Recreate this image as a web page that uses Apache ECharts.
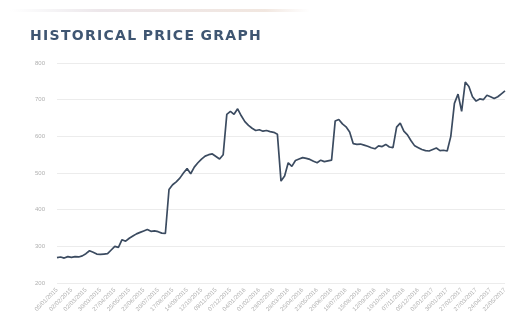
<!DOCTYPE html>
<html>
<head>
<meta charset="utf-8">
<script src="https://cdn.jsdelivr.net/npm/echarts@6/dist/echarts.min.js"></script>
<style>
  html, body { margin: 0; padding: 0; background: #ffffff; }
  #wrap { position: relative; width: 517px; height: 323px; }
  #chart { width: 517px; height: 323px; }
  #title {
    position: absolute; left: 30px; top: 27px;
    font-family: "DejaVu Sans", Verdana, sans-serif;
    font-size: 14px; font-weight: bold; line-height: 16px;
    letter-spacing: 1.3px; word-spacing: -1px;
    color: #3f5672; white-space: nowrap;
  }
</style>
</head>
<body>
<div id="wrap">
  <div id="chart"></div>
  <div id="title">HISTORICAL PRICE GRAPH</div>
</div>
<script>
// Weekly closing prices
const prices = [
  269, 271, 268, 272, 270, 272, 271, 274, 280, 288,
  284, 279, 278, 279, 280, 290, 300, 297, 318, 314,
  322, 328, 334, 338, 342, 346, 341, 342, 340, 336,
  335, 455, 468, 476, 486, 500, 512, 498, 516, 528,
  538, 546, 550, 552, 545, 538, 550, 660, 668, 660,
  675, 656, 640, 630, 622, 616, 618, 614, 616, 613,
  611, 606, 478, 492, 528, 518, 534, 538, 542, 540,
  537, 532, 528, 535, 531, 533, 535, 642, 646, 634,
  626, 612, 580, 578, 579, 576, 573, 569, 566, 574,
  572, 578, 571, 569, 625, 636, 614, 604, 588, 574,
  569, 564, 561, 560, 564, 568, 561, 562, 560, 600,
  690, 715, 668, 748, 736, 708, 696, 702, 700, 712,
  708, 703, 708, 716, 724
];

// Price axis ticks
const yTicks = [200, 300, 400, 500, 600, 700, 800];

// One date per week, starting at the first trading week
const startDate = new Date(Date.UTC(2015, 0, 5));
const dates = prices.map((_, i) => {
  const d = new Date(startDate.getTime() + i * 7 * 86400000);
  const mm = String(d.getUTCMonth() + 1).padStart(2, '0');
  const dd = String(d.getUTCDate()).padStart(2, '0');
  return dd + '/' + mm + '/' + d.getUTCFullYear();
});

const chart = echarts.init(document.getElementById('chart'), null, { renderer: 'canvas' });
chart.setOption({
  backgroundColor: '#ffffff',
  animation: false,
  graphic: [{
    type: 'rect',
    shape: { x: 10, y: 9, width: 300, height: 3 },
    style: {
      fill: new echarts.graphic.LinearGradient(0, 0, 1, 0, [
        { offset: 0, color: 'rgba(230,230,235,0)' },
        { offset: 0.3, color: 'rgba(235,228,232,0.9)' },
        { offset: 0.85, color: 'rgba(240,228,220,0.9)' },
        { offset: 1, color: 'rgba(240,230,225,0)' }
      ])
    }
  }],
  grid: { left: 57, right: 12, top: 63, bottom: 40 },
  xAxis: {
    type: 'category',
    data: dates,
    boundaryGap: false,
    axisLine: { show: false },
    axisTick: { show: false },
    axisLabel: {
      interval: 3,
      rotate: 45,
      fontSize: 6,
      color: '#b0b0b0',
      margin: 6
    },
    splitLine: { show: false }
  },
  yAxis: {
    type: 'value',
    min: yTicks[0],
    max: yTicks[yTicks.length - 1],
    interval: 100,
    axisLine: { show: false },
    axisTick: { show: false },
    axisLabel: {
      fontSize: 6,
      color: '#b0b0b0',
      margin: 12,
      formatter: v => String(v)
    },
    splitLine: { lineStyle: { color: '#ececec', width: 1 } }
  },
  series: [{
    type: 'line',
    data: prices,
    showSymbol: false,
    smooth: false,
    lineStyle: { color: '#3b4b60', width: 1.7 }
  }]
});
</script>
</body>
</html>
